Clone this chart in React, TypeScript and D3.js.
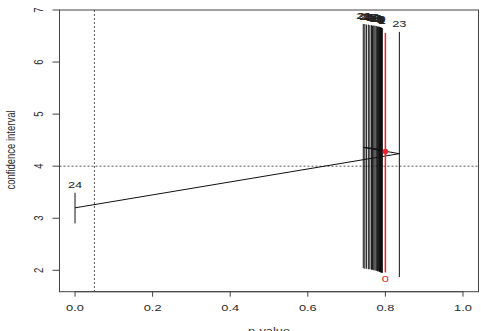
import React from 'react';
import * as d3 from 'd3';

const W = 481;
const H = 331;

// study index, p-value (x), estimate and confidence bounds (y)
const pointIds = [0, 1, 2, 3, 4, 5, 6, 7, 8, 9, 10, 11, 12, 13, 14, 15, 16, 17, 18, 19, 20, 21, 22, 23, 24];
const pValues = [0.8, 0.792, 0.791, 0.79, 0.789, 0.788, 0.787, 0.786, 0.785, 0.784, 0.782, 0.78, 0.778, 0.776, 0.773, 0.77, 0.767, 0.764, 0.76, 0.756, 0.751, 0.747, 0.743, 0.836, 0.0];
const estimates = [4.28, 4.3, 4.3, 4.3, 4.31, 4.31, 4.31, 4.31, 4.32, 4.32, 4.32, 4.33, 4.33, 4.33, 4.34, 4.34, 4.34, 4.35, 4.35, 4.35, 4.36, 4.36, 4.36, 4.24, 3.2];
const lower = [1.96, 1.95, 1.95, 1.96, 1.96, 1.96, 1.97, 1.97, 1.97, 1.98, 1.98, 1.98, 1.99, 1.99, 2.0, 2.0, 2.01, 2.01, 2.02, 2.02, 2.03, 2.03, 2.04, 1.87, 2.9];
const upper = [6.56, 6.65, 6.65, 6.66, 6.66, 6.66, 6.67, 6.67, 6.67, 6.68, 6.68, 6.68, 6.69, 6.69, 6.7, 6.7, 6.7, 6.71, 6.71, 6.72, 6.72, 6.73, 6.73, 6.58, 3.49];

const xTicks = [0, 0.2, 0.4, 0.6, 0.8, 1.0];
const yTicks = [2, 3, 4, 5, 6, 7];
const pCutoff = 0.05;
const refLevel = 4;

const RED = '#f0202a';
const FONT = 'Liberation Sans, Arial, Helvetica, sans-serif';
const SX = 1.35; // the picture is stretched sideways

function Label({ x, y, rot = false, color = '#222', size = 9.5, anchor = 'middle', children }: any) {
  return (
    <text
      transform={`translate(${x},${y}) scale(${SX},1)${rot ? ' rotate(-90)' : ''}`}
      textAnchor={anchor}
      dominantBaseline="central"
      fontFamily={FONT}
      fontSize={size}
      fill={color}
    >
      {children}
    </text>
  );
}

export default function App() {
  const x = d3.scaleLinear().domain([-0.04, 1.04]).range([59.5, 478.5]);
  const y = d3.scaleLinear().domain([1.589, 7.0]).range([291.7, 10]);
  const [x0, x1] = x.range();
  const [yb, yt] = y.range();

  const pts = pointIds.map((id, i) => ({ id, p: pValues[i], est: estimates[i], lo: lower[i], hi: upper[i] }));
  const path = d3.line<any>().x(d => x(d.p)).y(d => y(d.est))(pts) || '';

  return (
    <svg width={W} height={H} style={{ position: 'absolute', left: 0, top: 0, background: '#fff' }}>
      {/* reference lines */}
      <line x1={x(pCutoff)} x2={x(pCutoff)} y1={yt} y2={yb} stroke="#555" strokeDasharray="2,2" strokeWidth={1} />
      <line x1={x0} x2={x1} y1={y(refLevel)} y2={y(refLevel)} stroke="#555" strokeDasharray="2,2" strokeWidth={1} />

      {/* connecting line */}
      <path d={path} fill="none" stroke="#111" strokeWidth={1} />

      {/* confidence intervals */}
      {pts.map(d => (
        <line key={'ci' + d.id} x1={x(d.p)} x2={x(d.p)} y1={y(d.lo)} y2={y(d.hi)}
          stroke={d.id === 0 ? RED : '#111'} strokeWidth={d.id === 0 ? 1.5 : 1} />
      ))}
      <circle cx={x(pts[0].p)} cy={y(pts[0].est)} r={2.8} fill={RED} />

      {/* point labels */}
      {pts.map(d => d.id === 0
        ? <Label key={'lb' + d.id} x={x(d.p)} y={y(d.lo) + 6} color={RED}>{d.id}</Label>
        : <Label key={'lb' + d.id} x={x(d.p)} y={y(d.hi) - 8}>{d.id}</Label>
      )}

      {/* box */}
      <rect x={x0} y={yt} width={x1 - x0} height={yb - yt} fill="none" stroke="#444" strokeWidth={1} />

      {/* x axis */}
      <line x1={x(xTicks[0])} x2={x(xTicks[xTicks.length - 1])} y1={yb} y2={yb} stroke="#444" />
      {xTicks.map(t => (
        <g key={'xt' + t}>
          <line x1={x(t)} x2={x(t)} y1={yb} y2={yb + 5} stroke="#444" />
          <Label x={x(t)} y={308} color="#2a2a2a">{t.toFixed(1)}</Label>
        </g>
      ))}
      <Label x={269} y={331} color="#2a2a2a">p-value</Label>

      {/* y axis */}
      {yTicks.map(t => (
        <g key={'yt' + t}>
          <line x1={x0 - 7} x2={x0} y1={y(t)} y2={y(t)} stroke="#444" />
          <Label x={38} y={y(t)} rot color="#2a2a2a">{t}</Label>
        </g>
      ))}
      <Label x={10} y={150} rot color="#2a2a2a">confidence interval</Label>
    </svg>
  );
}
